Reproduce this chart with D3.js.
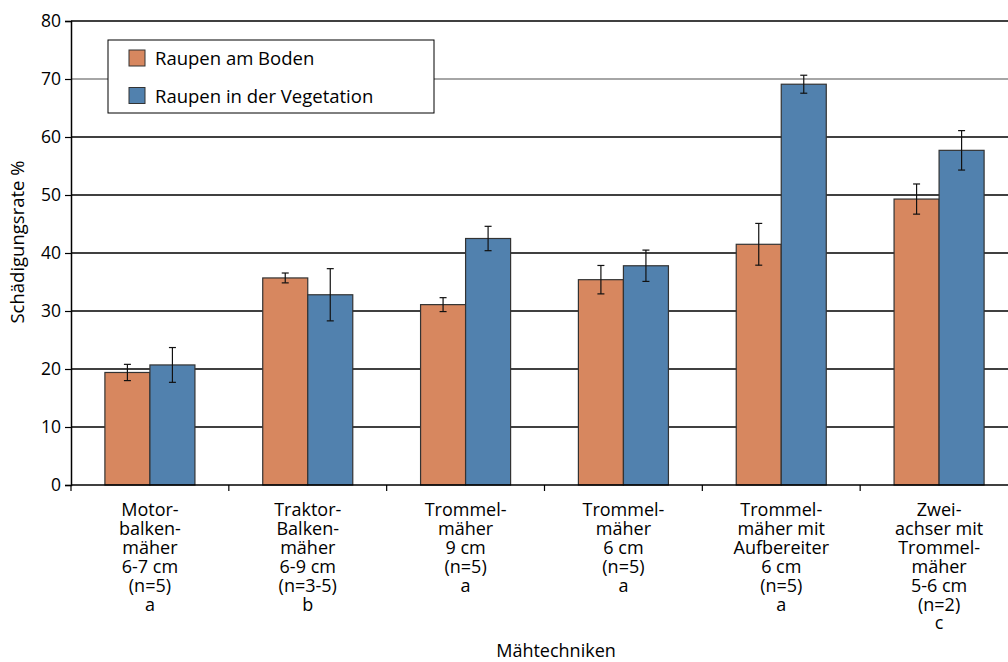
<!DOCTYPE html>
<html><head><meta charset="utf-8">
<script src="https://cdn.jsdelivr.net/npm/d3@7"></script>
<style>body{margin:0;background:#fff}svg{display:block;font-family:"Open Sans",sans-serif}</style>
</head><body><svg id="c" width="1008" height="662"></svg>
<script>
const categories = [
  ["Motor-","balken-","mäher","6-7 cm","(n=5)","a"],
  ["Traktor-","Balken-","mäher","6-9 cm","(n=3-5)","b"],
  ["Trommel-","mäher","9 cm","(n=5)","a"],
  ["Trommel-","mäher","6 cm","(n=5)","a"],
  ["Trommel-","mäher mit","Aufbereiter","6 cm","(n=5)","a"],
  ["Zwei-","achser mit","Trommel-","mäher","5-6 cm","(n=2)","c"]
];
const seriesNames = ["Raupen am Boden","Raupen in der Vegetation"];
const boden = [19.4, 35.7, 31.1, 35.4, 41.5, 49.3];
const bodenErr = [1.4, 0.85, 1.2, 2.45, 3.6, 2.6];
const vegetation = [20.7, 32.8, 42.5, 37.8, 69.1, 57.7];
const vegetationErr = [3.0, 4.5, 2.1, 2.7, 1.55, 3.4];
const yTicks = [0,10,20,30,40,50,60,70,80];
const colors = ["#D7875F","#5181AE"];

(function(){
const svg = d3.select("#c");
const mLeft = 71, mRight = 1018, mTop = 21, mBottom = 485;
const x0 = d3.scaleBand().domain(d3.range(6)).range([mLeft, mRight]).paddingInner(0).paddingOuter(0);
const x1 = d3.scaleBand().domain([0,1]).range([0, x0.bandwidth()]).paddingInner(0).paddingOuter(0.753);
const y = d3.scaleLinear().domain([0,80]).range([mBottom, mTop]);

// gridlines
svg.append("g").selectAll("line").data(yTicks.filter(d=>d>0)).join("line")
  .attr("x1", mLeft).attr("x2", mRight).attr("y1", d=>y(d)).attr("y2", d=>y(d))
  .attr("stroke", d=> d===70 ? "#888" : "#000").attr("stroke-width", 1.5);

// y axis
const ya = svg.append("g").attr("transform",`translate(${mLeft},0)`)
  .call(d3.axisLeft(y).tickValues(yTicks).tickSize(6).tickPadding(4));
ya.select(".domain").attr("stroke","#000").attr("stroke-width",1.5);
ya.selectAll(".tick line").attr("stroke","#000").attr("stroke-width",1.2);
ya.selectAll("text").attr("font-size",17.5).attr("fill","#000").attr("font-family","Open Sans");

// bars
const data = d3.range(6).map(i => [
  {s:0, v:boden[i], e:bodenErr[i]},
  {s:1, v:vegetation[i], e:vegetationErr[i]}
]);
const g = svg.append("g").selectAll("g").data(data).join("g")
  .attr("transform",(d,i)=>`translate(${x0(i)},0)`);
g.selectAll("rect").data(d=>d).join("rect")
  .attr("x", d=>x1(d.s)).attr("width", x1.bandwidth())
  .attr("y", d=>y(d.v)).attr("height", d=>y(0)-y(d.v))
  .attr("fill", d=>colors[d.s]).attr("stroke","#333").attr("stroke-width",1.2);
// error bars
const cx = d => x1(d.s)+x1.bandwidth()/2;
const eb = g.selectAll("g.eb").data(d=>d).join("g").attr("class","eb")
  .attr("stroke","#111").attr("stroke-width",1.2);
eb.append("line").attr("x1",cx).attr("x2",cx)
  .attr("y1",d=>y(d.v+d.e)).attr("y2",d=>y(d.v-d.e));
eb.append("line").attr("x1",d=>cx(d)-3.5).attr("x2",d=>cx(d)+3.5)
  .attr("y1",d=>y(d.v+d.e)).attr("y2",d=>y(d.v+d.e));
eb.append("line").attr("x1",d=>cx(d)-3.5).attr("x2",d=>cx(d)+3.5)
  .attr("y1",d=>y(d.v-d.e)).attr("y2",d=>y(d.v-d.e));

// x axis
svg.append("line").attr("x1",mLeft).attr("x2",mRight).attr("y1",mBottom).attr("y2",mBottom)
  .attr("stroke","#000").attr("stroke-width",1.5);
svg.append("g").selectAll("line").data(d3.range(7)).join("line")
  .attr("x1",i=>mLeft+i*x0.bandwidth()).attr("x2",i=>mLeft+i*x0.bandwidth())
  .attr("y1",mBottom).attr("y2",mBottom+6).attr("stroke","#000").attr("stroke-width",1.2);

// x labels
svg.append("g").selectAll("text").data(categories).join("text")
  .attr("text-anchor","middle").attr("font-size",18).attr("fill","#000")
  .attr("transform",(d,i)=>`translate(${x0(i)+x0.bandwidth()/2},516)`)
  .selectAll("tspan").data(d=>d).join("tspan")
  .attr("x",0).attr("y",(d,j)=>j*18.9).text(d=>d);

// axis titles
svg.append("text").attr("x",556).attr("y",657).attr("text-anchor","middle")
  .attr("font-size",18).text("Mähtechniken");
svg.append("text").attr("transform","translate(24,242) rotate(-90)").attr("text-anchor","middle")
  .attr("font-size",18.5).text("Schädigungsrate %");

// legend
const lg = svg.append("g");
lg.append("rect").attr("x",108).attr("y",40).attr("width",326).attr("height",73)
  .attr("fill","#fff").attr("stroke","#000").attr("stroke-width",1);
seriesNames.forEach((n,i)=>{
  lg.append("rect").attr("x",129).attr("y",50+i*37.5).attr("width",16).attr("height",16)
    .attr("fill",colors[i]).attr("stroke","#333").attr("stroke-width",1);
  lg.append("text").attr("x",155).attr("y",65+i*37.5).attr("font-size",18.5).text(n);
});
})();
</script></body></html>
